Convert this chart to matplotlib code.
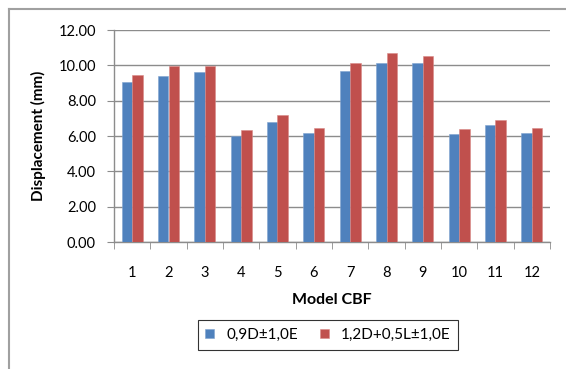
import matplotlib.pyplot as plt
import numpy as np
from matplotlib.lines import Line2D

plt.rcParams['font.family'] = ['Lato', 'DejaVu Sans']

# displacement per model (mm)
models = ['1', '2', '3', '4', '5', '6', '7', '8', '9', '10', '11', '12']
combo_1 = [9.04, 9.38, 9.60, 5.98, 6.81, 6.15, 9.68, 10.11, 10.11, 6.09, 6.60, 6.15]
combo_2 = [9.45, 9.98, 9.98, 6.32, 7.17, 6.45, 10.11, 10.68, 10.55, 6.38, 6.90, 6.45]
labels = ['0,9D±1,0E', '1,2D+0,5L±1,0E']
yticks = [0, 2, 4, 6, 8, 10, 12]

W, H = 566, 369
fig = plt.figure(figsize=(W / 100, H / 100), dpi=100)
ax = fig.add_axes([114 / W, 1 - 242 / H, (550 - 114) / W, (242 - 30) / H])

x = np.arange(len(models))
bw = 0.29
ax.bar(x - bw / 2, combo_1, bw, color='#4F81BD', edgecolor='#7fa3d0', linewidth=0.4, label=labels[0], zorder=3)
ax.bar(x + bw / 2, combo_2, bw, color='#C0504D', edgecolor='#d88a88', linewidth=0.4, label=labels[1], zorder=3)

ax.set_xlim(-0.5, len(models) - 0.5)
ax.set_ylim(0, 12)
ax.set_yticks(yticks)
ax.set_yticklabels(['%.2f' % v for v in yticks], fontsize=10.5)
ax.yaxis.grid(True, color='#8c8c8c', linewidth=1)
ax.set_axisbelow(True)

# category labels centred, tick marks on the boundaries
ax.set_xticks(x)
ax.set_xticklabels(models, fontsize=10.5)
ax.set_xticks(np.arange(len(models) + 1) - 0.5, minor=True)
ax.tick_params(axis='x', which='major', length=0, pad=17)
ax.tick_params(axis='x', which='minor', length=5, color='#8c8c8c', direction='out')
ax.tick_params(axis='y', length=5, color='#8c8c8c', direction='out', pad=8)

for s in ['top', 'right']:
    ax.spines[s].set_visible(False)
for s in ['left', 'bottom']:
    ax.spines[s].set_color('#8c8c8c')
    ax.spines[s].set_linewidth(1)

ax.set_ylabel('Displacement (mm)', fontsize=11, fontweight='bold', labelpad=9)
ax.set_xlabel('Model CBF', fontsize=11.5, fontweight='bold', labelpad=10)

leg = ax.legend(loc='center', bbox_to_anchor=((328 - 114) / (550 - 114), -(335 - 242) / (242 - 30)),
                ncol=2, frameon=True, fancybox=False, fontsize=11, handlelength=0.6,
                handleheight=0.6, columnspacing=1.4, borderpad=0.5, edgecolor='black')
leg.get_frame().set_linewidth(0.8)

# outer chart border
fig.add_artist(Line2D([9 / W, 9 / W], [0, 1 - 9 / H], color='#a0a0a0', linewidth=1.5, transform=fig.transFigure))
fig.add_artist(Line2D([9 / W, 1], [1 - 9 / H, 1 - 9 / H], color='#a0a0a0', linewidth=1.5, transform=fig.transFigure))

fig.savefig('out.png', dpi=100)
